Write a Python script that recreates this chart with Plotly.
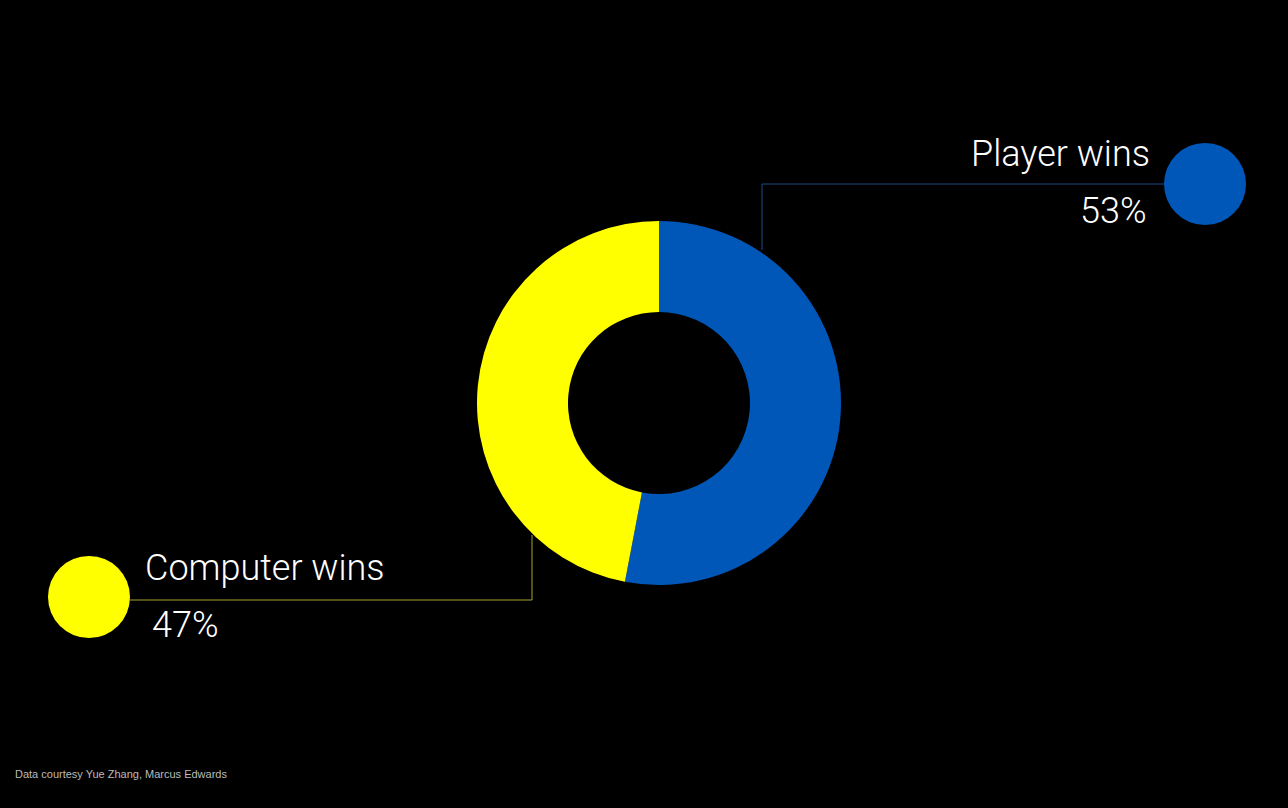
import plotly.graph_objects as go

labels = ["Player wins", "Computer wins"]
values = [53, 47]
colors = ["#0057B8", "#FFFF00"]
pct_text = ["53%", "47%"]
source = "Data courtesy Yue Zhang, Marcus Edwards"

W, H = 1288, 808
cx, cy, R = 659, 403, 182

FONT = "Roboto"

fig = go.Figure()

fig.add_trace(go.Pie(
    labels=labels, values=values, hole=0.5, sort=False, direction="clockwise",
    rotation=0, textinfo="none", hoverinfo="label+percent",
    marker=dict(colors=colors, line=dict(width=0)),
    domain=dict(x=[(cx - R) / W, (cx + R) / W], y=[(H - cy - R) / H, (H - cy + R) / H]),
    showlegend=False,
))

# leader lines (pixel coordinates on a hidden axis)
fig.add_trace(go.Scatter(x=[762, 762, 1165], y=[250, 184, 184], mode="lines",
                         line=dict(color="#1D4A85", width=1), hoverinfo="skip", showlegend=False))
fig.add_trace(go.Scatter(x=[532, 532, 130], y=[535, 600, 600], mode="lines",
                         line=dict(color="#A3A331", width=1), hoverinfo="skip", showlegend=False))
# marker circles
fig.add_trace(go.Scatter(x=[1205, 89], y=[184, 597], mode="markers",
                         marker=dict(size=82, color=colors, line=dict(width=0)),
                         hoverinfo="skip", showlegend=False))

ann = []
ann.append(dict(x=1152, y=154, text=labels[0], xanchor="right", yanchor="middle", showarrow=False,
                font=dict(size=36, color="white", family=FONT, weight=300)))
ann.append(dict(x=1149, y=211, text=pct_text[0], xanchor="right", yanchor="middle", showarrow=False,
                font=dict(size=36, color="white", family=FONT, weight=300)))
ann.append(dict(x=143, y=568, text=labels[1], xanchor="left", yanchor="middle", showarrow=False,
                font=dict(size=36, color="white", family=FONT, weight=300)))
ann.append(dict(x=150, y=625, text=pct_text[1], xanchor="left", yanchor="middle", showarrow=False,
                font=dict(size=36, color="white", family=FONT, weight=300)))
ann.append(dict(x=13, y=774, text=source, xanchor="left", yanchor="middle", showarrow=False,
                font=dict(size=11, color="#BBBBBB", family="Liberation Sans")))
for a in ann:
    a["xref"] = "x"
    a["yref"] = "y"

fig.update_layout(
    width=W, height=H, margin=dict(l=0, r=0, t=0, b=0),
    paper_bgcolor="black", plot_bgcolor="rgba(0,0,0,0)",
    xaxis=dict(range=[0, W], visible=False, fixedrange=True),
    yaxis=dict(range=[H, 0], visible=False, fixedrange=True),
    annotations=ann,
)

fig.write_html(
    "out.html",
    config={"displayModeBar": False},
    post_script="document.body.style.margin='0';document.body.style.background='black';",
)
